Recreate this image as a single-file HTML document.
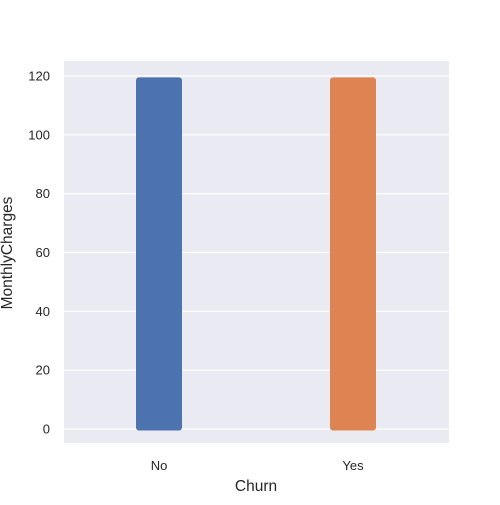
<!DOCTYPE html>
<html><head><meta charset="utf-8"><style>
body{margin:0;background:#fff;}
svg text{font-family:"Liberation Sans","DejaVu Sans",sans-serif;fill:#262626;}
</style></head><body>
<svg id="chart" width="500" height="500">
<rect x="64" y="61" width="385" height="382" fill="#eaeaf2"/>
<g id="grid"></g><g id="marks"></g><g id="ticks"></g>
<text x="256" y="491" text-anchor="middle" font-size="15.5">Churn</text>
<text transform="translate(12,253) rotate(-90)" text-anchor="middle" font-size="15.5">MonthlyCharges</text>
</svg>
<script>
const categories=["No","Yes"];
const minValues=[0.5,0.5];
const maxValues=[118.5,118.5];
const colors=["#4c72b0","#dd8452"];
const yTicks=[0,20,40,60,80,100,120];
const ns="http://www.w3.org/2000/svg";
function y(v){return 429-(v/120)*353;}
function x(i){return 159+i*194;}
const grid=document.getElementById('grid'),marks=document.getElementById('marks'),ticks=document.getElementById('ticks');
yTicks.forEach(t=>{
 const l=document.createElementNS(ns,'line');
 l.setAttribute('x1',64);l.setAttribute('x2',449);l.setAttribute('y1',y(t));l.setAttribute('y2',y(t));
 l.setAttribute('stroke','#fff');l.setAttribute('stroke-width','1.2');
 
 
 grid.appendChild(l);
 const tx=document.createElementNS(ns,'text');
 tx.setAttribute('x',50);tx.setAttribute('y',y(t)+4.5);tx.setAttribute('text-anchor','end');tx.setAttribute('font-size','13');
 tx.textContent=t;
 
 
 ticks.appendChild(tx);
});
categories.forEach((c,i)=>{
 const r=document.createElementNS(ns,'rect');
 const top=y(maxValues[i])-3,bot=y(minValues[i])+3;
 r.setAttribute('x',x(i)-23);r.setAttribute('y',top);r.setAttribute('width',46);r.setAttribute('height',bot-top);
 r.setAttribute('rx',3);r.setAttribute('fill',colors[i]);
 
 
 marks.appendChild(r);
 const tx=document.createElementNS(ns,'text');
 tx.setAttribute('x',x(i));tx.setAttribute('y',470);tx.setAttribute('text-anchor','middle');tx.setAttribute('font-size','13');
 tx.textContent=c;
 
 
 ticks.appendChild(tx);
});
</script>
</body></html>
